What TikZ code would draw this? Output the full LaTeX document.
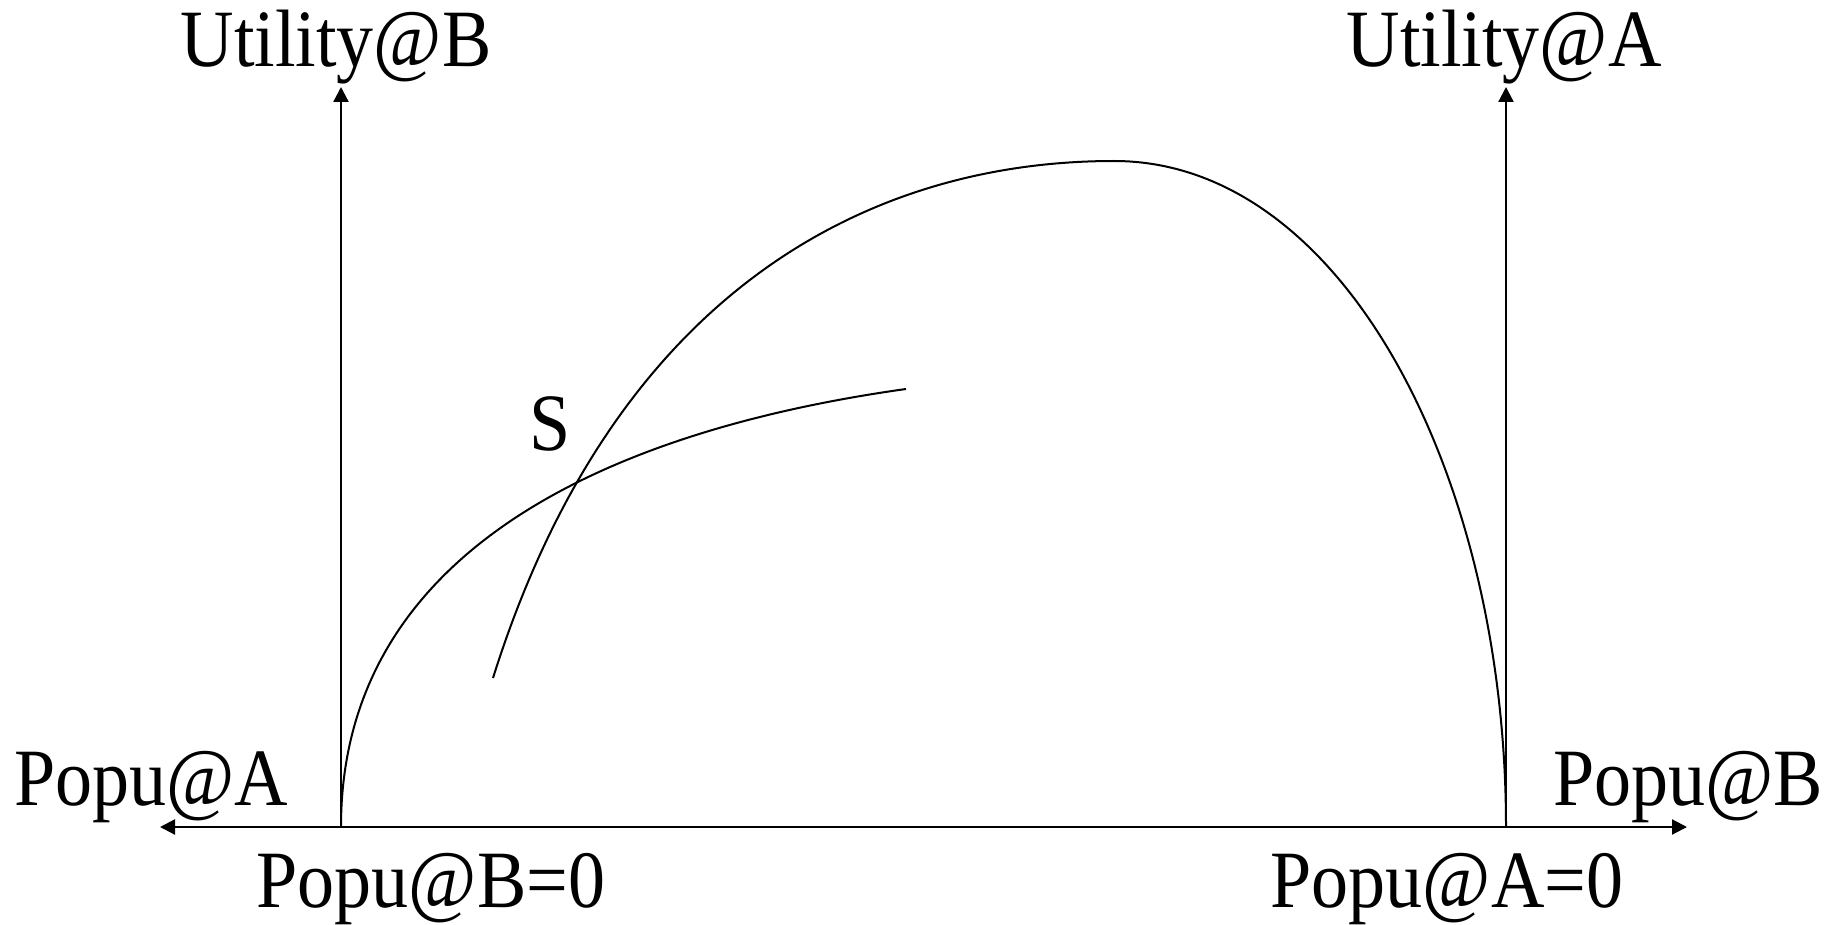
\documentclass[tikz,border=0pt]{standalone}
\usepackage{fontspec}
\setmainfont{Liberation Serif}
\usetikzlibrary{arrows.meta}
\newcommand{\tallText}[1]{\scalebox{1}[1.1]{#1}}

\begin{document}
\begin{tikzpicture}[
  x=0.5pt, y=-0.5pt,
  axis/.style={line width=1.1pt, -{Triangle[length=7.5pt, width=7.5pt]}},
  curve/.style={line width=1pt},
  lbl/.style={anchor=base, inner sep=0pt, font=\fontsize{37pt}{40pt}\selectfont}
]
\useasboundingbox (0,0) rectangle (1837,925);

% axes
\coordinate (oB) at (341,827);
\coordinate (oA) at (1506,827);
\coordinate (topB) at (341,87);
\coordinate (topA) at (1506,87);
\coordinate (endL) at (160,827);
\coordinate (endR) at (1687,827);

\draw[axis] (oB) -- (topB);
\draw[axis] (oA) -- (topA);
\draw[axis, {Triangle[length=7.5pt, width=7.5pt]}-{Triangle[length=7.5pt, width=7.5pt]}] (endL) -- (endR);

% labels
\node[lbl] (utilB) at (336,67) {\tallText{Utility@B}};
\node[lbl] (utilA) at (1504,67) {\tallText{Utility@A}};
\node[lbl] (popA) at (151,805) {\tallText{Popu@A}};
\node[lbl] (popB) at (1688,805) {\tallText{Popu@B}};
\node[lbl] (popBzero) at (431,907) {\tallText{Popu@B=0}};
\node[lbl] (popAzero) at (1447,907) {\tallText{Popu@A=0}};
\node[lbl] (sLabel) at (550,450) {\tallText{S}};

% frontier and indifference curve
\coordinate (fStart) at (493,678);
\coordinate (fTop) at (1114,161);
\draw[curve] (fStart) .. controls (613,296) and (864,161) .. (fTop)
  .. controls (1344,161) and (1506,477) .. (oA);
\coordinate (iEnd) at (906,389);
\draw[curve] (oB) .. controls (341,527) and (656,424) .. (iEnd);
\end{tikzpicture}
\end{document}
